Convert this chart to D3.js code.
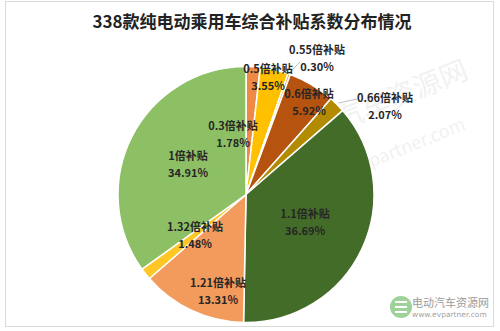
<!DOCTYPE html>
<html><head><meta charset="utf-8">
<script src="https://cdn.jsdelivr.net/npm/d3@7/dist/d3.min.js"></script>
<style>body{margin:0;background:#fff}svg{display:block}</style>
</head><body>
<svg id="c" width="500" height="331"></svg>
<script>
const title = "338款纯电动乘用车综合补贴系数分布情况";
const categories = ["0.3倍补贴","0.5倍补贴","0.55倍补贴","0.6倍补贴","0.66倍补贴","1.1倍补贴","1.21倍补贴","1.32倍补贴","1倍补贴"];
const values = [1.78, 3.55, 0.30, 5.92, 2.07, 36.69, 13.31, 1.48, 34.91];
const colors = ["#EE8A45","#FFC000","#E9A23B","#B5530F","#B38B00","#446C29","#F29B5C","#FFC726","#8DC065"];
// label positions (centre of the two-line label), picked to match the reference placement
const labelX = [233, 268, 317, 309, 385, 305, 218, 195, 188];
const labelY = [134, 77, 58, 102, 106, 222, 291, 235, 164];

const svg = d3.select("#c");
const font = "'Noto Sans CJK SC','Noto Sans',sans-serif";

// frame
svg.append("rect").attr("x",5.5).attr("y",1.5).attr("width",488).attr("height",325)
  .attr("fill","#fff").attr("stroke","#d9d9d9").attr("stroke-width",1);

// faint watermark
const wm = svg.append("g").attr("opacity",0.08).attr("fill","#555").attr("font-family",font);
wm.append("text").attr("x",405).attr("y",104).attr("text-anchor","middle").attr("font-size",28)
  .attr("transform","rotate(-22,405,104)").text("汽车资源网");
wm.append("text").attr("x",410).attr("y",152).attr("text-anchor","middle").attr("font-size",18)
  .attr("transform","rotate(-22,410,152)").text("evpartner.com");

svg.append("text").attr("x",252).attr("y",28).attr("text-anchor","middle")
  .attr("font-family",font).attr("font-weight","bold").attr("font-size",17)
  .attr("fill","#222").text(title);

const cx = 246, cy = 194.5, R = 128;
const pie = d3.pie().sort(null).value(d=>d)(values);
const arc = d3.arc().innerRadius(0).outerRadius(R);
const g = svg.append("g").attr("transform",`translate(${cx},${cy})`);
g.selectAll("path").data(pie).join("path")
  .attr("d",arc).attr("fill",(d,i)=>colors[i])
  .attr("stroke","#fff").attr("stroke-width",1.5).attr("stroke-linejoin","round");

// leader lines for small outside labels
const outer = d3.arc().innerRadius(R+2).outerRadius(R+2);
[[2, 300, 62],[4, 357, 99]].forEach(([i,x2,y2])=>{
  const p = outer.centroid(pie[i]);
  svg.append("line").attr("x1",cx+p[0]).attr("y1",cy+p[1]).attr("x2",x2).attr("y2",y2)
    .attr("stroke","#bfbfbf").attr("stroke-width",1);
});

const lab = svg.append("g").attr("font-family",font).attr("font-weight","bold")
  .attr("font-size",11).attr("fill","#262626").attr("text-anchor","middle");
categories.forEach((c,i)=>{
  lab.append("text").attr("x",labelX[i]).attr("y",labelY[i]-4).text(c);
  lab.append("text").attr("x",labelX[i]).attr("y",labelY[i]+13).text(values[i].toFixed(2)+"%");
});

// bottom-right logo
const lg = svg.append("g");
lg.append("circle").attr("cx",401).attr("cy",307).attr("r",11).attr("fill","#9fd19a");
lg.append("rect").attr("x",395).attr("y",301).attr("width",12).attr("height",2).attr("fill","#fff");
lg.append("rect").attr("x",395).attr("y",306).attr("width",12).attr("height",2).attr("fill","#fff");
lg.append("rect").attr("x",395).attr("y",311).attr("width",12).attr("height",2).attr("fill","#fff");
lg.append("text").attr("x",412).attr("y",307).attr("font-family",font).attr("font-size",11)
  .attr("fill","#9a9a9a").text("电动汽车资源网");
lg.append("text").attr("x",412).attr("y",317).attr("font-family","'DejaVu Sans',sans-serif").attr("font-size",7.5)
  .attr("fill","#a5a5a5").text("www.evpartner.com");
</script>
</body></html>
